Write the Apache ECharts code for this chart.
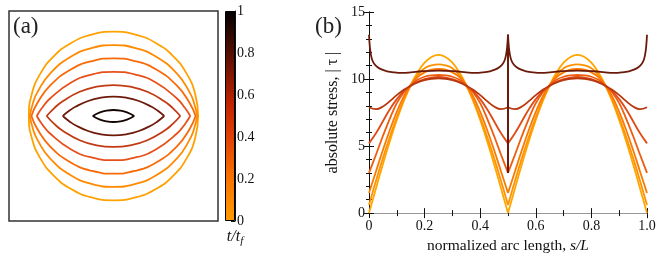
<!DOCTYPE html>
<html><head><meta charset="utf-8">
<script src="https://cdn.jsdelivr.net/npm/echarts@6/dist/echarts.min.js"></script>
<style>html,body{margin:0;padding:0;background:#fff}#c{width:664px;height:259px}</style>
</head><body><div id="c"></div>
<script>
// ---------- Panel (a): shapes (x, y in units of the initial radius) ----------
const circle0 = [[1,0],[0.966,0.259],[0.866,0.5],[0.707,0.707],[0.5,0.866],[0.259,0.966],[0,1],[-0.259,0.966],[-0.5,0.866],[-0.707,0.707],[-0.866,0.5],[-0.966,0.259],[-1,0],[-0.966,-0.259],[-0.866,-0.5],[-0.707,-0.707],[-0.5,-0.866],[-0.259,-0.966],[0,-1],[0.259,-0.966],[0.5,-0.866],[0.707,-0.707],[0.866,-0.5],[0.966,-0.259],[1,0]];
const shape2Top = [[-0.99,0],[-0.95,0.16],[-0.9,0.28],[-0.75,0.503],[-0.5,0.706],[-0.25,0.808],[0,0.84],[0.25,0.808],[0.5,0.706],[0.75,0.503],[0.9,0.28],[0.95,0.16],[0.99,0]];
const shape2Bot = [[-0.99,0],[-0.95,-0.16],[-0.9,-0.28],[-0.75,-0.503],[-0.5,-0.706],[-0.25,-0.808],[0,-0.84],[0.25,-0.808],[0.5,-0.706],[0.75,-0.503],[0.9,-0.28],[0.95,-0.16],[0.99,0]];
const shape3Top = [[-0.97,0],[-0.9,0.154],[-0.75,0.359],[-0.5,0.554],[-0.25,0.652],[0,0.683],[0.25,0.652],[0.5,0.554],[0.75,0.359],[0.9,0.154],[0.97,0]];
const shape3Bot = [[-0.97,0],[-0.9,-0.154],[-0.75,-0.359],[-0.5,-0.554],[-0.25,-0.652],[0,-0.683],[0.25,-0.652],[0.5,-0.554],[0.75,-0.359],[0.9,-0.154],[0.97,0]];
const shape4Top = [[-0.907,0],[-0.85,0.088],[-0.75,0.208],[-0.5,0.397],[-0.25,0.494],[0,0.524],[0.25,0.494],[0.5,0.397],[0.75,0.208],[0.85,0.088],[0.907,0]];
const shape4Bot = [[-0.907,0],[-0.85,-0.088],[-0.75,-0.208],[-0.5,-0.397],[-0.25,-0.494],[0,-0.524],[0.25,-0.494],[0.5,-0.397],[0.75,-0.208],[0.85,-0.088],[0.907,0]];
const shape5Top = [[-0.79,0],[-0.7,0.094],[-0.6,0.175],[-0.4,0.287],[-0.2,0.347],[0,0.367],[0.2,0.347],[0.4,0.287],[0.6,0.175],[0.7,0.094],[0.79,0]];
const shape5Bot = [[-0.79,0],[-0.7,-0.094],[-0.6,-0.175],[-0.4,-0.287],[-0.2,-0.347],[0,-0.367],[0.2,-0.347],[0.4,-0.287],[0.6,-0.175],[0.7,-0.094],[0.79,0]];
const shape6Top = [[-0.6,0],[-0.52,0.064],[-0.45,0.109],[-0.3,0.178],[-0.15,0.217],[0,0.23],[0.15,0.217],[0.3,0.178],[0.45,0.109],[0.52,0.064],[0.6,0]];
const shape6Bot = [[-0.6,0],[-0.52,-0.064],[-0.45,-0.109],[-0.3,-0.178],[-0.15,-0.217],[0,-0.23],[0.15,-0.217],[0.3,-0.178],[0.45,-0.109],[0.52,-0.064],[0.6,0]];
const shape7Top = [[-0.245,0],[-0.16,0.042],[-0.08,0.064],[0,0.071],[0.08,0.064],[0.16,0.042],[0.245,0]];
const shape7Bot = [[-0.245,0],[-0.16,-0.042],[-0.08,-0.064],[0,-0.071],[0.08,-0.064],[0.16,-0.042],[0.245,0]];
const shapeColors = ['#ffa200','#ff8a00','#f86a08','#e8501a','#c23a14','#6e1a0a','#140404'];

// ---------- Colorbar ----------
const cbTicks = [0, 0.2, 0.4, 0.6, 0.8, 1];
const cbStops = [[0,'#ff9a00'],[0.2,'#f77400'],[0.4,'#e24006'],[0.55,'#c42400'],[0.75,'#6a1204'],[1,'#000000']];

// ---------- Panel (b): absolute stress vs normalized arc length ----------
const arcS = [0,0.025,0.05,0.075,0.1,0.125,0.15,0.175,0.2,0.225,0.25,0.275,0.3,0.325,0.35,0.375,0.4,0.425,0.45,0.475,0.5,0.525,0.55,0.575,0.6,0.625,0.65,0.675,0.7,0.725,0.75,0.775,0.8,0.825,0.85,0.875,0.9,0.925,0.95,0.975,1];
const tau0 = [0,1.84,3.65,5.36,6.94,8.34,9.55,10.51,11.22,11.65,11.8,11.65,11.22,10.51,9.55,8.34,6.94,5.36,3.65,1.84,0,1.84,3.65,5.36,6.94,8.34,9.55,10.51,11.22,11.65,11.8,11.65,11.22,10.51,9.55,8.34,6.94,5.36,3.65,1.84,0];
const tau1 = [0.6,2.4,4.1,5.7,7.15,8.45,9.5,10.3,10.8,11.02,11.1,11.02,10.8,10.3,9.5,8.45,7.15,5.7,4.1,2.4,0.6,2.4,4.1,5.7,7.15,8.45,9.5,10.3,10.8,11.02,11.1,11.02,10.8,10.3,9.5,8.45,7.15,5.7,4.1,2.4,0.6];
const tau2 = [1.5,3.1,4.7,6.2,7.55,8.7,9.55,10.15,10.5,10.7,10.75,10.7,10.5,10.15,9.55,8.7,7.55,6.2,4.7,3.1,1.5,3.1,4.7,6.2,7.55,8.7,9.55,10.15,10.5,10.7,10.75,10.7,10.5,10.15,9.55,8.7,7.55,6.2,4.7,3.1,1.5];
const tau3 = [3.0,4.35,5.75,7.05,8.2,9.0,9.55,9.95,10.17,10.27,10.3,10.27,10.17,9.95,9.55,9.0,8.2,7.05,5.75,4.35,3.0,4.35,5.75,7.05,8.2,9.0,9.55,9.95,10.17,10.27,10.3,10.27,10.17,9.95,9.55,9.0,8.2,7.05,5.75,4.35,3.0];
const tau4 = [5.2,5.95,6.85,7.75,8.5,9.1,9.5,9.8,10.0,10.11,10.15,10.11,10.0,9.8,9.5,9.1,8.5,7.75,6.85,5.95,5.2,5.95,6.85,7.75,8.5,9.1,9.5,9.8,10.0,10.11,10.15,10.11,10.0,9.8,9.5,9.1,8.5,7.75,6.85,5.95,5.2];
const tau5 = [7.9,7.75,7.95,8.35,8.8,9.2,9.5,9.75,9.92,10.02,10.05,10.02,9.92,9.75,9.5,9.2,8.8,8.35,7.95,7.75,7.9,7.75,7.95,8.35,8.8,9.2,9.5,9.75,9.92,10.02,10.05,10.02,9.92,9.75,9.5,9.2,8.8,8.35,7.95,7.75,7.9];
const sDark = [0,0.003,0.007,0.012,0.02,0.03,0.045,0.065,0.09,0.12,0.15,0.19,0.25,0.31,0.35,0.38,0.41,0.435,0.455,0.47,0.48,0.488,0.493,0.497,0.5,0.5,0.5,0.503,0.507,0.512,0.52,0.53,0.545,0.565,0.59,0.62,0.65,0.69,0.75,0.81,0.85,0.88,0.91,0.935,0.955,0.97,0.98,0.988,0.993,0.997,1];
const tauDark = [13.3,12.4,11.8,11.4,11.1,10.9,10.72,10.58,10.5,10.46,10.5,10.58,10.63,10.58,10.5,10.46,10.5,10.58,10.72,10.9,11.1,11.4,11.8,12.4,13.3,3.0,13.3,12.4,11.8,11.4,11.1,10.9,10.72,10.58,10.5,10.46,10.5,10.58,10.63,10.58,10.5,10.46,10.5,10.58,10.72,10.9,11.1,11.4,11.8,12.4,13.3];
const stressColors = ['#ffa600','#ff9200','#f97a00','#ef5c0e','#df4a16','#b9380e','#6b1a0a'];
const xTicks = [0, 0.2, 0.4, 0.6, 0.8, 1.0];
const yTicks = [0, 5, 10, 15];

const serif = 'Liberation Serif';
const chart = echarts.init(document.getElementById('c'), null, {renderer: 'canvas'});

const shapeSets = [[circle0],[shape2Top,shape2Bot],[shape3Top,shape3Bot],[shape4Top,shape4Bot],[shape5Top,shape5Bot],[shape6Top,shape6Bot],[shape7Top,shape7Bot]];
const series = [];
shapeSets.forEach((set, k) => {
  set.forEach(d => series.push({type:'line', xAxisIndex:0, yAxisIndex:0, data:d, smooth:0.5, showSymbol:false, silent:true,
    lineStyle:{color:shapeColors[k], width:1.8}}));
});
series.push({type:'bar', xAxisIndex:1, yAxisIndex:1, data:[cbTicks[cbTicks.length-1]], barWidth:'100%', silent:true,
  itemStyle:{borderColor:'#000', borderWidth:1,
    color:new echarts.graphic.LinearGradient(0,1,0,0, cbStops.map(s=>({offset:s[0], color:s[1]})))}});

// split a curve into pieces between corners so cusps stay sharp
function addCurve(sArr, tArr, color, breaks) {
  let start = 0;
  breaks.concat([sArr.length - 1]).forEach(b => {
    const pts = [];
    for (let i = start; i <= b; i++) pts.push([sArr[i], tArr[i]]);
    const vertical = pts.length === 2 && pts[0][0] === pts[1][0];
    series.push({type:'line', xAxisIndex:2, yAxisIndex:2, data:pts, showSymbol:false, silent:true,
      smooth: vertical ? false : 0.4, lineStyle:{color:color, width:1.8}});
    start = b;
  });
}
[tau0,tau1,tau2,tau3,tau4,tau5].forEach((t,k) => addCurve(arcS, t, stressColors[k], [arcS.indexOf(0.5)]));
const firstMid = sDark.indexOf(0.5), lastMid = sDark.lastIndexOf(0.5);
addCurve(sDark, tauDark, stressColors[6], [firstMid, firstMid + 1, lastMid]);

const lbl = {fontFamily:serif, fontSize:14, color:'#111'};
chart.setOption({
  animation:false,
  title:[
    {text:'(a)', left:13, top:15, padding:0, textStyle:{fontFamily:serif, fontSize:23, fontWeight:'normal', color:'#222'}},
    {text:'(b)', left:315, top:15, padding:0, textStyle:{fontFamily:serif, fontSize:23, fontWeight:'normal', color:'#222'}}
  ],
  grid:[
    {left:9, top:11, width:209, height:210, show:true, borderColor:'#333', borderWidth:1.5, backgroundColor:'transparent'},
    {left:225, top:11, width:10, height:210},
    {left:369, top:12, width:278, height:207}
  ],
  xAxis:[
    {gridIndex:0, type:'value', min:-1.235, max:1.235, show:false},
    {gridIndex:1, type:'category', data:['c'], show:false},
    {gridIndex:2, type:'value', min:0, max:1, interval:0.2,
      axisLine:{lineStyle:{color:'#111', width:1}}, axisTick:{inside:true, length:5, lineStyle:{color:'#111'}},
      minorTick:{show:true, splitNumber:2, length:3, lineStyle:{color:'#111'}}, splitLine:{show:false},
      axisLabel:Object.assign({margin:6, formatter:v => xTicks.indexOf(v) === 0 ? '0' : v.toFixed(1)}, lbl),
      name:'normalized arc length, {i|s/L}', nameLocation:'middle', nameGap:24,
      nameTextStyle:{fontFamily:serif, fontSize:15.5, color:'#111', rich:{i:{fontFamily:serif, fontSize:15.5, fontStyle:'italic', color:'#111'}}}},
    {gridIndex:2, type:'value', min:0, max:1, interval:0.2, position:'top',
      axisLine:{lineStyle:{color:'#999', width:1}}, axisTick:{inside:true, length:5, lineStyle:{color:'#111'}},
      minorTick:{show:true, splitNumber:2, length:3, lineStyle:{color:'#111'}}, splitLine:{show:false}, axisLabel:{show:false}}
  ],
  yAxis:[
    {gridIndex:0, type:'value', min:-1.245, max:1.245, show:false},
    {gridIndex:1, type:'value', min:0, max:1, interval:0.2, position:'right',
      axisLine:{show:true, lineStyle:{color:'#111', width:1}}, axisTick:{show:true, inside:true, length:4, lineStyle:{color:'#111'}},
      minorTick:{show:true, splitNumber:2, length:2.5, lineStyle:{color:'#111'}}, splitLine:{show:false},
      axisLabel:Object.assign({margin:2, formatter:v => (v === cbTicks[0] || v === cbTicks[5]) ? String(v) : v.toFixed(1)}, lbl),
      name:'{i|t/t}{s|f}', nameLocation:'start', nameGap:6,
      nameTextStyle:{rich:{i:{fontFamily:serif, fontSize:16, fontStyle:'italic', color:'#111'}, s:{fontFamily:serif, fontSize:11, fontStyle:'italic', color:'#111', padding:[9,0,0,0]}}}},
    {gridIndex:2, type:'value', min:0, max:15, interval:5,
      axisLine:{show:true, lineStyle:{color:'#111', width:1}}, axisTick:{show:true, inside:true, length:5, lineStyle:{color:'#111'}},
      minorTick:{show:true, splitNumber:5, length:3, lineStyle:{color:'#111'}}, splitLine:{show:false},
      axisLabel:Object.assign({margin:4, formatter:v => String(yTicks[yTicks.indexOf(v)])}, lbl),
      name:'absolute stress, | τ |', nameLocation:'middle', nameGap:28,
      nameTextStyle:{fontFamily:serif, fontSize:16, color:'#111'}},
    {gridIndex:2, type:'value', min:0, max:15, interval:5, position:'right',
      axisLine:{show:true, lineStyle:{color:'#111', width:1}}, axisTick:{show:true, inside:true, length:5, lineStyle:{color:'#111'}},
      minorTick:{show:true, splitNumber:5, length:3, lineStyle:{color:'#111'}}, splitLine:{show:false}, axisLabel:{show:false}}
  ],
  series:series
});
</script></body></html>
